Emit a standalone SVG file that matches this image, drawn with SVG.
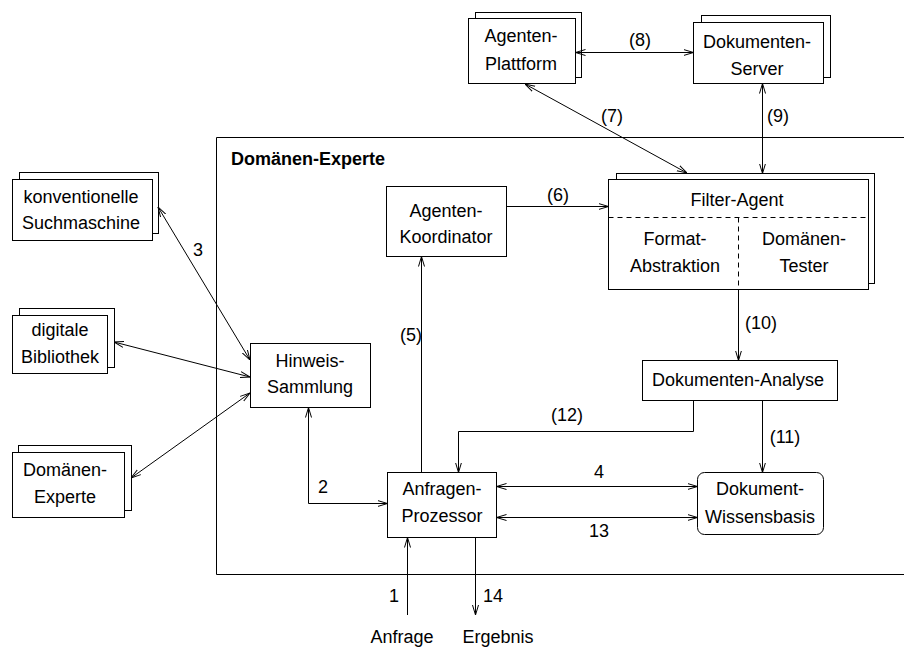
<svg xmlns="http://www.w3.org/2000/svg" width="904" height="649" viewBox="0 0 904 649">
  <style>
    .box { fill: #fff; stroke: #000; stroke-width: 1; }
    .dash { fill: none; stroke: #000; stroke-width: 1; stroke-dasharray: 5 4; }
    .wire { fill: none; stroke: #000; stroke-width: 1; }
    .end { marker-end: url(#arr); }
    .both { marker-start: url(#arr); marker-end: url(#arr); }
    text { font-family: "Liberation Sans", Arial, sans-serif; font-size: 18px; fill: #000; text-anchor: middle; }
    .title { font-weight: bold; text-anchor: start; }
  </style>
  <defs>
    <marker id="arr" viewBox="0 0 10 8" refX="10" refY="4" markerWidth="10" markerHeight="8" markerUnits="userSpaceOnUse" orient="auto-start-reverse">
      <path d="M0,1 L10,4 L0,7" fill="none" stroke="#000" stroke-width="1"/>
    </marker>
  </defs>

  <!-- enclosing system boundary -->
  <g id="domaenen-experte-system">
    <path class="wire" d="M904,137.5 H216.5 V574.5 H904"/>
    <text class="title" x="231" y="165">Domänen-Experte</text>
  </g>

  <!-- external sources -->
  <g id="suchmaschine">
    <rect class="box" x="19.5" y="172.5" width="139" height="61"/>
    <rect class="box" x="12.5" y="179.5" width="140" height="61"/>
    <text x="81" y="203">konventionelle</text>
    <text x="81" y="229">Suchmaschine</text>
  </g>
  <g id="bibliothek">
    <rect class="box" x="19.5" y="308.5" width="95" height="59"/>
    <rect class="box" x="12.5" y="315.5" width="95" height="58"/>
    <text x="60" y="336">digitale</text>
    <text x="60" y="363">Bibliothek</text>
  </g>
  <g id="externer-experte">
    <rect class="box" x="18.5" y="445.5" width="113" height="65"/>
    <rect class="box" x="12.5" y="452.5" width="112" height="65"/>
    <text x="65" y="476">Domänen-</text>
    <text x="65" y="503">Experte</text>
  </g>

  <!-- top level services -->
  <g id="agenten-plattform">
    <rect class="box" x="475.5" y="12.5" width="106" height="65"/>
    <rect class="box" x="468.5" y="18.5" width="107" height="65"/>
    <text x="521" y="42">Agenten-</text>
    <text x="521" y="70">Plattform</text>
  </g>
  <g id="dokumenten-server">
    <rect class="box" x="701.5" y="15.5" width="129" height="62"/>
    <rect class="box" x="693.5" y="22.5" width="130" height="61"/>
    <text x="757" y="48">Dokumenten-</text>
    <text x="757" y="75">Server</text>
  </g>

  <!-- internal components -->
  <g id="hinweis-sammlung">
    <rect class="box" x="250.5" y="343.5" width="120" height="64"/>
    <text x="310" y="367">Hinweis-</text>
    <text x="310" y="393">Sammlung</text>
  </g>
  <g id="agenten-koordinator">
    <rect class="box" x="386.5" y="186.5" width="120" height="70"/>
    <text x="446" y="217">Agenten-</text>
    <text x="446" y="243">Koordinator</text>
  </g>
  <g id="filter-agent">
    <rect class="box" x="616.5" y="173.5" width="258" height="110"/>
    <rect class="box" x="608.5" y="179.5" width="260" height="110"/>
    <path class="dash" d="M608.5,217.5 H868.5 M738.5,217.5 V289.5"/>
    <text x="737" y="206">Filter-Agent</text>
    <text x="675" y="245">Format-</text>
    <text x="675" y="272">Abstraktion</text>
    <text x="804" y="245">Domänen-</text>
    <text x="804" y="272">Tester</text>
  </g>
  <g id="dokumenten-analyse">
    <rect class="box" x="642.5" y="360.5" width="195" height="40"/>
    <text x="738" y="386">Dokumenten-Analyse</text>
  </g>
  <g id="anfragen-prozessor">
    <rect class="box" x="387.5" y="472.5" width="109" height="65"/>
    <text x="442" y="495">Anfragen-</text>
    <text x="442" y="522">Prozessor</text>
  </g>
  <g id="wissensbasis">
    <rect class="box" x="697.5" y="472.5" width="126" height="62" rx="7" ry="7"/>
    <text x="760" y="495">Dokument-</text>
    <text x="760" y="523">Wissensbasis</text>
  </g>

  <!-- connectors -->
  <g id="connectors">
    <path class="wire both" d="M575.5,52.5 H693.5"/>
    <path class="wire both" d="M525,84 L687,173"/>
    <path class="wire both" d="M762.5,83.5 V173.5"/>
    <path class="wire end" d="M506.5,206.5 H608.5"/>
    <path class="wire end" d="M421.5,472.5 V256.5"/>
    <path class="wire end" d="M738.5,289.5 V360.5"/>
    <path class="wire end" d="M762.5,400.5 V472.5"/>
    <path class="wire end" d="M693.5,400.5 V431.5 H458.5 V472.5"/>
    <path class="wire both" d="M496.5,486.5 H697.5"/>
    <path class="wire both" d="M496.5,517.5 H697.5"/>
    <path class="wire both" d="M308.5,407.5 V503.5 H387.5"/>
    <path class="wire both" d="M158,207 L250,360"/>
    <path class="wire both" d="M114,342 L250,377"/>
    <path class="wire both" d="M131,478 L250,393"/>
    <path class="wire end" d="M407.5,615 V537.5"/>
    <path class="wire end" d="M475.5,537.5 V615"/>
  </g>

  <!-- connector labels -->
  <g id="labels">
    <text x="640" y="46">(8)</text>
    <text x="612" y="122">(7)</text>
    <text x="778" y="122">(9)</text>
    <text x="558" y="201">(6)</text>
    <text x="411" y="341">(5)</text>
    <text x="761" y="329">(10)</text>
    <text x="785" y="443">(11)</text>
    <text x="567" y="421">(12)</text>
    <text x="599" y="478">4</text>
    <text x="599" y="537">13</text>
    <text x="323" y="493">2</text>
    <text x="198" y="256">3</text>
    <text x="394" y="602">1</text>
    <text x="493" y="602">14</text>
    <text x="402" y="643">Anfrage</text>
    <text x="498" y="643">Ergebnis</text>
  </g>
</svg>
